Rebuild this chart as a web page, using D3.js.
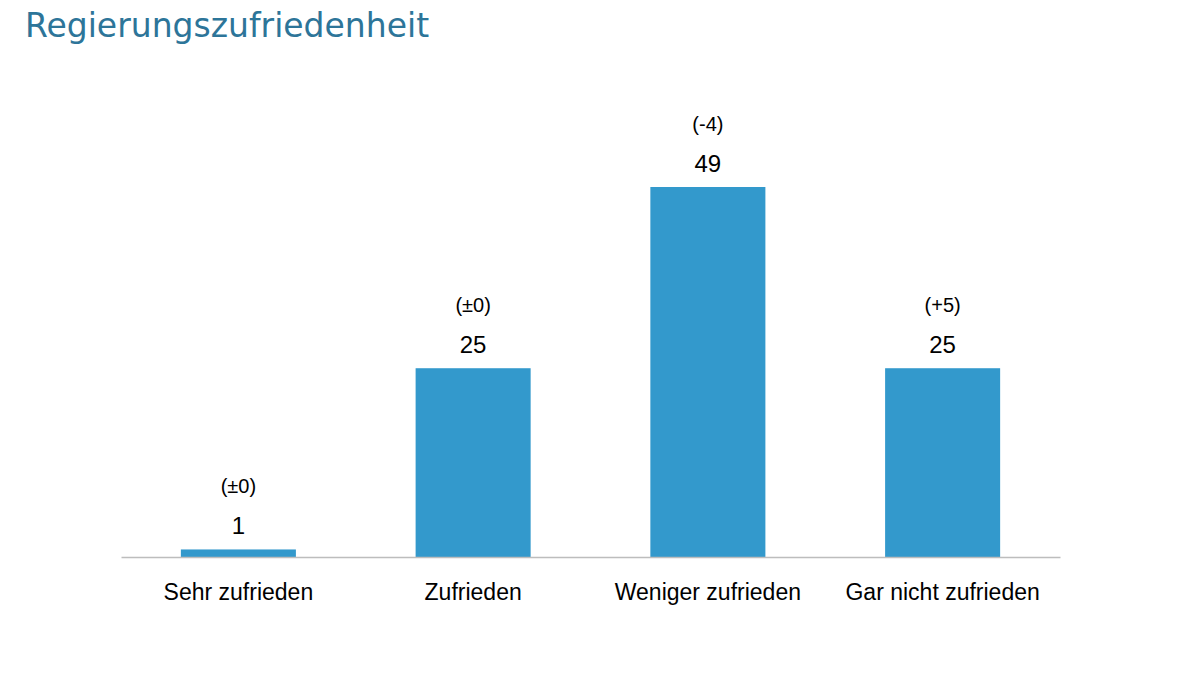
<!DOCTYPE html>
<html><head><meta charset="utf-8">
<script src="https://cdn.jsdelivr.net/npm/d3@7"></script>
<style>body{margin:0;background:#fff}</style>
</head><body>
<svg id="chart" width="1200" height="675"></svg>
<script>
const categories = ["Sehr zufrieden", "Zufrieden", "Weniger zufrieden", "Gar nicht zufrieden"];
const values = [1, 25, 49, 25];
const changes = ["(±0)", "(±0)", "(-4)", "(+5)"];

const svg = d3.select("#chart");
svg.append("text").attr("x", 25).attr("y", 37)
  .attr("font-family", "DejaVu Sans").attr("font-size", 33).attr("fill", "#2d7599")
  .text("Regierungszufriedenheit");

const x = d3.scaleBand().domain(categories).range([121, 1060]).paddingInner(0.51).paddingOuter(0.255);
const y = d3.scaleLinear().domain([0, 49]).range([557, 187]);

svg.selectAll("rect.bar").data(values).enter().append("rect")
  .attr("class", "bar")
  .attr("x", (d, i) => x(categories[i]))
  .attr("width", x.bandwidth())
  .attr("y", d => y(d))
  .attr("height", d => y(0) - y(d))
  .attr("fill", "#3399cc");

const axis = svg.append("g").attr("transform", `translate(0,${y(0)})`)
  .call(d3.axisBottom(x).tickSize(0).tickPadding(27));
axis.select(".domain").attr("stroke", "#bdbdbd").attr("stroke-width", 1.5);
axis.selectAll("text").attr("font-family", "Liberation Sans, Arial").attr("font-size", 23).attr("fill", "#000");

svg.selectAll("text.val").data(values).enter().append("text")
  .attr("class", "val")
  .attr("x", (d, i) => x(categories[i]) + x.bandwidth() / 2)
  .attr("y", d => y(d) - 15)
  .attr("text-anchor", "middle")
  .attr("font-family", "Liberation Sans, Arial").attr("font-size", 24).attr("fill", "#000")
  .text(d => d);

svg.selectAll("text.chg").data(changes).enter().append("text")
  .attr("class", "chg")
  .attr("x", (d, i) => x(categories[i]) + x.bandwidth() / 2)
  .attr("y", (d, i) => y(values[i]) - 56)
  .attr("text-anchor", "middle")
  .attr("font-family", "Liberation Sans, Arial").attr("font-size", 20).attr("fill", "#000")
  .text(d => d);
</script>
</body></html>
